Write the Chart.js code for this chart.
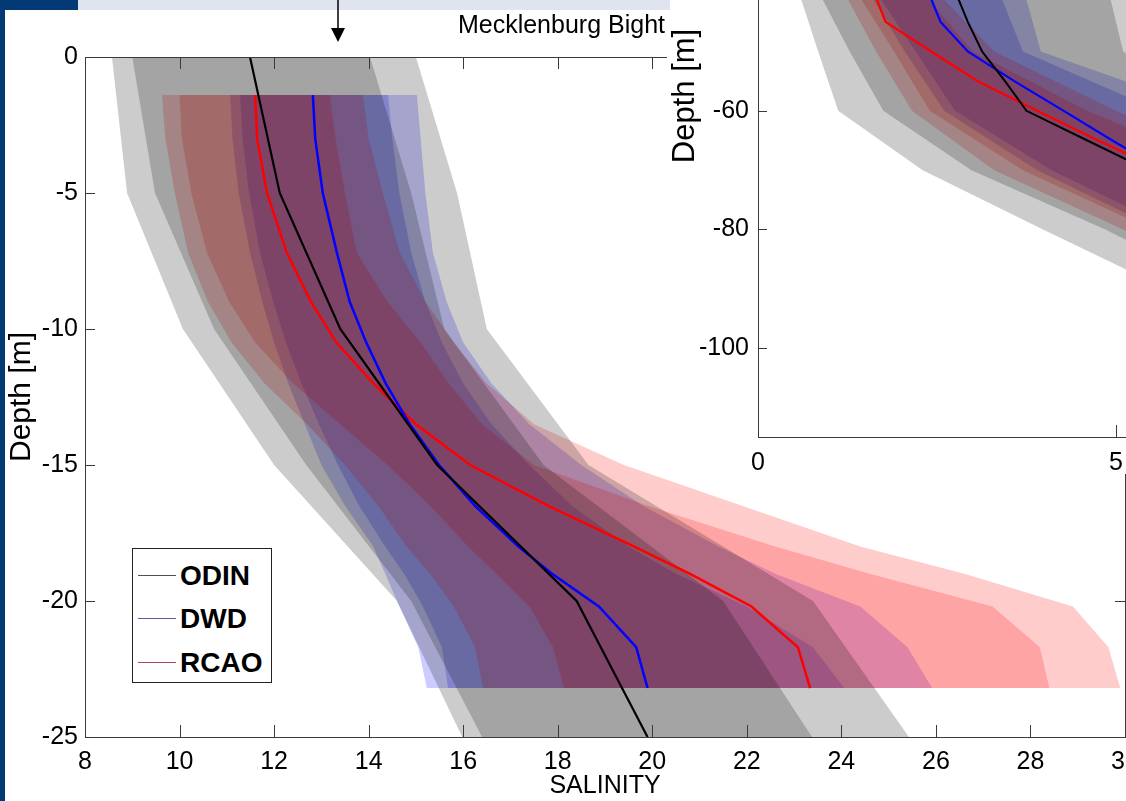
<!DOCTYPE html>
<html>
<head>
<meta charset="utf-8">
<script src="https://cdn.jsdelivr.net/npm/chart.js@4.4.1/dist/chart.umd.min.js"></script>
<style>
  html, body { margin: 0; padding: 0; }
  body { width: 1126px; height: 801px; overflow: hidden; position: relative; background: #fff;
         font-family: 'Liberation Sans', Arial, sans-serif; }
  canvas { position: absolute; }
  #main { left: 0; top: 0; }
  #inset { left: 667px; top: -260px; background: #fff; }
  #strip { position: absolute; left: 0; top: 0; width: 5px; height: 801px; background: #033a76; }
  #corner { position: absolute; left: 0; top: 0; width: 78px; height: 10px; background: #033a76; }
  #band { position: absolute; left: 78px; top: 0; width: 592px; height: 10px; background: #dfe4ef; }
  #arrow { position: absolute; left: 330px; top: 0; }
  #station { position: absolute; left: 400px; top: 9px; width: 265px; text-align: right;
             font-size: 25px; line-height: 30px; color: #000; }
  #legend { position: absolute; left: 132px; top: 548px; width: 140px; height: 135px;
            box-sizing: border-box; border: 1px solid #222; background: #fff; }
  .row { position: absolute; left: 0; width: 140px; height: 32px; }
  .row i { position: absolute; left: 5px; top: 15px; width: 38px; height: 1px; }
  .row b { position: absolute; left: 47px; top: 0; font-size: 28px; line-height: 32px; color: #000; }
</style>
</head>
<body>
<canvas id="main" width="1180" height="801" style="width:1180px;height:801px"></canvas>
<canvas id="inset" width="820" height="734" style="width:820px;height:734px"></canvas>
<div id="strip"></div>
<div id="corner"></div>
<div id="band"></div>
<svg id="arrow" width="16" height="44"><line x1="8" y1="0" x2="8" y2="30" stroke="#000" stroke-width="1.5"/><polygon points="1,28 15,28 8,42" fill="#000"/></svg>
<div id="station">Mecklenburg Bight</div>
<div id="legend">
  <div class="row" style="top:11px"><i style="background:#505050"></i><b>ODIN</b></div>
  <div class="row" style="top:54px"><i style="background:#5a5aa6"></i><b>DWD</b></div>
  <div class="row" style="top:98px"><i style="background:#a8485a"></i><b>RCAO</b></div>
</div>
<script>
// ---- main panel: Mecklenburg Bight salinity profiles ----
const odinDepth = [0, -5, -10, -15, -20, -25];
const odinMean = [11.49, 12.12, 13.40, 15.45, 18.40, 19.90];
const odinOuterLeft = [8.57, 8.89, 10.07, 12.0, 14.6, 15.98];
const odinInnerLeft = [9.0, 9.48, 10.73, 12.68, 14.9, 16.4];
const odinInnerRight = [14.03, 14.9, 15.6, 17.7, 21.5, 23.38];
const odinOuterRight = [15.0, 15.87, 16.5, 18.65, 23.4, 25.43];

const modelDepth = [-1.4, -3, -5, -7.2, -9, -10.5, -12, -13.5, -15, -16.5, -18, -19, -20.2, -21.7, -23.2];
const dwdMean = [12.82, 12.87, 13.03, 13.33, 13.60, 13.95, 14.36, 14.87, 15.49, 16.25, 17.17, 17.88, 18.87, 19.66, 19.90];
const dwdOuterLeft = [11.07, 11.12, 11.25, 11.49, 11.75, 12.0, 12.3, 12.65, 13.0, 13.5, 14.1, 14.35, 14.65, 15.05, 15.23];
const dwdInnerLeft = [11.28, 11.33, 11.47, 11.70, 11.98, 12.25, 12.58, 12.95, 13.35, 13.8, 14.35, 14.75, 15.15, 15.55, 15.68];
const dwdInnerRight = [14.41, 14.5, 14.65, 14.9, 15.2, 15.55, 16.0, 16.6, 17.4, 18.3, 19.5, 20.5, 22.0, 23.4, 24.06];
const dwdOuterRight = [15.02, 15.1, 15.2, 15.36, 15.65, 16.0, 16.6, 17.4, 18.5, 19.8, 21.4, 22.6, 24.4, 25.4, 25.92];

const rcaoMean = [11.60, 11.64, 11.85, 12.27, 12.78, 13.32, 14.10, 15.00, 16.15, 17.80, 19.62, 20.80, 22.10, 23.08, 23.34];
const rcaoOuterLeft = [9.63, 9.7, 9.9, 10.18, 10.6, 11.1, 11.8, 12.7, 13.5, 14.2, 14.8, 15.3, 15.8, 16.25, 16.42];
const rcaoInnerLeft = [10.0, 10.05, 10.25, 10.58, 11.05, 11.6, 12.4, 13.4, 14.4, 15.3, 16.1, 16.7, 17.4, 17.9, 18.13];
const rcaoInnerRight = [13.18, 13.3, 13.5, 13.75, 14.4, 15.1, 15.7, 16.4, 17.5, 19.9, 22.6, 24.6, 27.2, 28.2, 28.4];
const rcaoOuterRight = [13.88, 14.0, 14.3, 14.66, 15.2, 15.8, 16.5, 17.5, 19.4, 21.9, 24.4, 26.6, 28.9, 29.65, 29.9];

// ---- inset panel (deeper station, only partly visible) ----
const insetDepth = [-30, -40, -50, -60, -70, -80, -90, -100];
const insetLineDepth = [-30, -40, -45, -50, -55, -60, -65, -70, -80, -90, -100];
const insetOdin = [2.7, 2.76, 2.93, 3.13, 3.45, 3.75, 4.6, 5.45, 7.3, 9.0, 10.0];
const insetDwd = [2.3, 2.38, 2.55, 2.93, 3.58, 4.27, 4.95, 5.65, 7.4, 9.0, 10.0];
const insetRcao = [1.5, 1.62, 1.78, 2.42, 3.07, 3.9, 4.75, 5.65, 7.4, 9.0, 10.0];
const insetOdinOuterLeft = [0.4, 0.57, 0.84, 1.12, 2.3, 3.98, 5.7, 7.0];
const insetOdinInnerLeft = [0.7, 0.85, 1.28, 1.75, 2.98, 4.85, 6.5, 7.8];
const insetOdinInnerRight = [4.8, 4.9, 5.1, 6.5, 8.0, 9.5, 11.0, 12.0];
const insetOdinOuterRight = [5.5, 5.6, 5.9, 7.2, 8.7, 10.2, 11.6, 12.6];
const insetDwdOuterLeft = [1.4, 1.55, 2.05, 2.6, 3.9, 5.6, 7.3, 8.5];
const insetDwdInnerLeft = [1.5, 1.65, 2.2, 2.75, 4.1, 5.8, 7.5, 8.7];
const insetDwdInnerRight = [3.25, 3.37, 3.7, 5.6, 7.4, 9.0, 10.4, 11.3];
const insetDwdOuterRight = [3.6, 3.72, 3.95, 6.3, 8.0, 9.4, 10.8, 11.7];
const insetRcaoOuterLeft = [1.05, 1.2, 1.65, 2.15, 3.3, 5.1, 6.9, 8.1];
const insetRcaoInnerLeft = [1.2, 1.38, 1.9, 2.4, 3.7, 5.5, 7.2, 8.4];
const insetRcaoInnerRight = [2.15, 2.3, 3.0, 4.6, 6.6, 8.4, 10.0, 11.0];
const insetRcaoOuterRight = [2.35, 2.5, 3.3, 5.0, 7.0, 8.8, 10.4, 11.5];

const FONT = "'Liberation Sans', Arial, sans-serif";
const GRAY = 'rgba(0,0,0,0.2)';
const BLUE = 'rgba(0,0,255,0.2)';
const RED = 'rgba(255,0,0,0.2)';

const pts = (xs, ds) => xs.map((v, i) => ({x: v, y: ds[i]}));

// a band = left edge (no fill) + right edge filled back to it
function band(left, right, depth, color, order) {
  return [
    {data: pts(left, depth), borderWidth: 0, borderColor: 'transparent', pointRadius: 0, fill: false, order},
    {data: pts(right, depth), borderWidth: 0, borderColor: 'transparent', pointRadius: 0, fill: '-1', backgroundColor: color, order}
  ];
}
function profile(xs, depth, color, order, width) {
  return {data: pts(xs, depth), borderColor: color, borderWidth: width, pointRadius: 0, fill: false, order};
}

// box round the plot with inward ticks, MATLAB style
const frameTicks = {
  id: 'frameTicks',
  afterDraw(chart, args, opts) {
    const {ctx, chartArea: a, scales: {x, y}} = chart;
    ctx.save();
    ctx.strokeStyle = '#3a3a3a';
    ctx.lineWidth = 1;
    ctx.strokeRect(Math.round(a.left) + 0.5, Math.round(a.top) + 0.5, Math.round(a.right - a.left), Math.round(a.bottom - a.top));
    ctx.beginPath();
    x.ticks.forEach(t => {
      const px = Math.round(x.getPixelForValue(t.value)) + 0.5;
      ctx.moveTo(px, a.bottom); ctx.lineTo(px, a.bottom - opts.xLen);
      ctx.moveTo(px, a.top); ctx.lineTo(px, a.top + opts.xLen);
    });
    y.ticks.forEach(t => {
      const py = Math.round(y.getPixelForValue(t.value)) + 0.5;
      ctx.moveTo(a.left, py); ctx.lineTo(a.left + opts.yLen, py);
      ctx.moveTo(a.right, py); ctx.lineTo(a.right - opts.yLen, py);
    });
    ctx.stroke();
    ctx.restore();
  }
};

function axis(min, max, step, pad, extra) {
  return Object.assign({
    type: 'linear', min, max,
    grid: {display: false, drawTicks: false},
    border: {display: false},
    ticks: {stepSize: step, padding: pad, color: '#000', font: {family: FONT, size: 25}, maxRotation: 0, autoSkip: false, includeBounds: false}
  }, extra);
}

new Chart(document.getElementById('main'), {
  type: 'line',
  data: {
    datasets: [
      profile(odinMean, odinDepth, '#000000', 1, 2.2),
      profile(dwdMean, modelDepth, '#0000ff', 2, 2.5),
      profile(rcaoMean, modelDepth, '#ff0000', 3, 2.5),
      ...band(odinInnerLeft, odinInnerRight, odinDepth, GRAY, 10),
      ...band(odinOuterLeft, odinOuterRight, odinDepth, GRAY, 11),
      ...band(rcaoInnerLeft, rcaoInnerRight, modelDepth, RED, 20),
      ...band(rcaoOuterLeft, rcaoOuterRight, modelDepth, RED, 21),
      ...band(dwdInnerLeft, dwdInnerRight, modelDepth, BLUE, 30),
      ...band(dwdOuterLeft, dwdOuterRight, modelDepth, BLUE, 31)
    ]
  },
  options: {
    indexAxis: 'y',
    responsive: false,
    animation: false,
    events: [],
    layout: {padding: {top: 57, right: 55, left: 0, bottom: 0}},
    plugins: {legend: {display: false}, tooltip: {enabled: false}, frameTicks: {xLen: 12, yLen: 10}},
    scales: {
      x: axis(8, 30, 2, 10, {
        position: 'bottom',
        title: {display: true, text: 'SALINITY', color: '#000', font: {family: FONT, size: 25}, padding: {top: 0, bottom: 0}},
        afterFit: s => { s.height = 64; s.paddingLeft = 0; s.paddingRight = 0; }
      }),
      y: axis(-25, 0, 5, 7, {
        position: 'left',
        title: {display: true, text: 'Depth [m]', color: '#000', font: {family: FONT, size: 30}, padding: {top: 4, bottom: 0}},
        afterFit: s => { s.width = 85; s.paddingTop = 0; s.paddingBottom = 0; }
      })
    }
  },
  plugins: [frameTicks]
});
</script>
<script>
new Chart(document.getElementById('inset'), {
  type: 'line',
  data: {
    datasets: [
      profile(insetOdin, insetLineDepth, '#000000', 1, 2),
      profile(insetDwd, insetLineDepth, '#0000ff', 2, 2.2),
      profile(insetRcao, insetLineDepth, '#ff0000', 3, 2.2),
      ...band(insetOdinInnerLeft, insetOdinInnerRight, insetDepth, GRAY, 10),
      ...band(insetOdinOuterLeft, insetOdinOuterRight, insetDepth, GRAY, 11),
      ...band(insetRcaoInnerLeft, insetRcaoInnerRight, insetDepth, RED, 20),
      ...band(insetRcaoOuterLeft, insetRcaoOuterRight, insetDepth, RED, 21),
      ...band(insetDwdInnerLeft, insetDwdInnerRight, insetDepth, BLUE, 30),
      ...band(insetDwdOuterLeft, insetDwdOuterRight, insetDepth, BLUE, 31)
    ]
  },
  options: {
    indexAxis: 'y',
    responsive: false,
    animation: false,
    events: [],
    layout: {padding: {top: 15, right: 13, left: 0, bottom: 0}},
    plugins: {legend: {display: false}, tooltip: {enabled: false}, frameTicks: {xLen: 12, yLen: 9}},
    scales: {
      x: axis(0, 10, 5, 11, {
        position: 'bottom',
        afterFit: s => { s.height = 37; s.paddingLeft = 0; s.paddingRight = 0; }
      }),
      y: axis(-115, 0, 20, 9, {
        position: 'left',
        title: {display: true, text: 'Depth [m]', color: '#000', font: {family: FONT, size: 31}, padding: {top: 0, bottom: 0}},
        afterFit: s => { s.width = 91; s.paddingTop = 0; s.paddingBottom = 0; }
      })
    }
  },
  plugins: [frameTicks]
});
</script>
</body>
</html>
